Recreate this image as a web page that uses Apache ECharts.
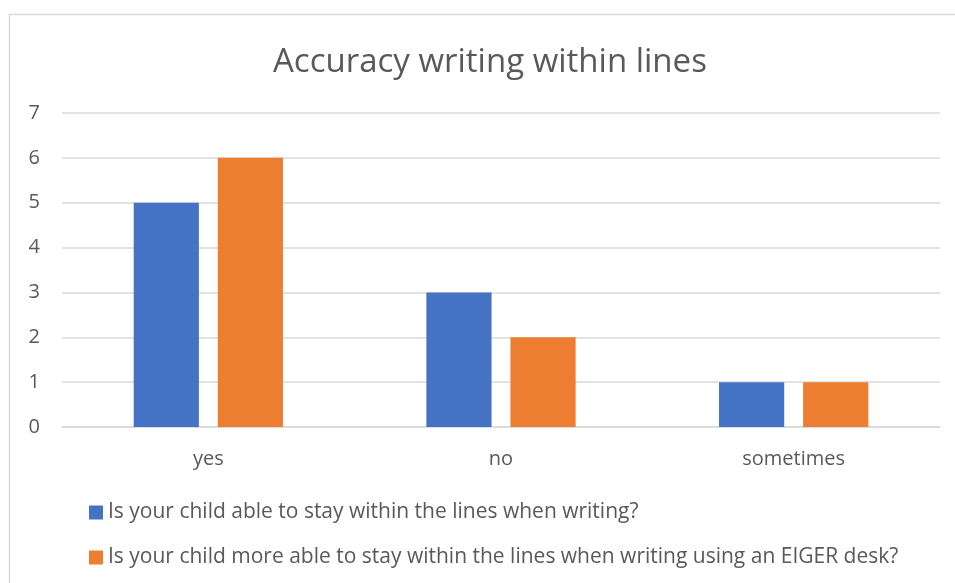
<!DOCTYPE html>
<html>
<head>
<meta charset="utf-8">
<script src="https://cdn.jsdelivr.net/npm/echarts@6/dist/echarts.min.js"></script>
<style>
  html, body { margin: 0; padding: 0; background: #fff; }
  #chart { width: 955px; height: 583px; }
</style>
</head>
<body>
<div id="chart"></div>
<script>
const categories = ["yes", "no", "sometimes"];
const seriesNames = [
  "Is your child able to stay within the lines when writing?",
  "Is your child more able to stay within the lines when writing using an EIGER desk?",
];
const ableValues = [5, 3, 1];
const eigerValues = [6, 2, 1];
const colors = ["#4472C4", "#ED7D31"];

const font = "Open Sans";
const chart = echarts.init(document.getElementById("chart"));

chart.setOption({
  color: colors,
  textStyle: { fontFamily: font, color: "#595959" },
  title: {
    text: "Accuracy writing within lines",
    left: 268,
    top: 41,
    textStyle: { fontFamily: font, fontSize: 33, fontWeight: "normal", color: "#595959" },
  },
  graphic: [
    {
      type: "rect",
      shape: { x: 9.5, y: 14.5, width: 1000, height: 700 },
      style: { fill: null, stroke: "#D9D9D9", lineWidth: 1.5 },
      silent: true,
    },
  ],
  legend: {
    orient: "vertical",
    left: 84,
    top: 497,
    itemWidth: 14,
    itemHeight: 14,
    itemGap: 24,
    icon: "rect",
    textStyle: { fontFamily: font, fontSize: 21, color: "#595959" },
    data: seriesNames,
  },
  grid: { left: 62, right: 15, top: 113, bottom: 156, containLabel: false },
  xAxis: {
    type: "category",
    data: categories,
    axisLine: { lineStyle: { color: "#D9D9D9", width: 1.5 } },
    axisTick: { show: false },
    axisLabel: { fontSize: 20, color: "#595959", margin: 22 },
  },
  yAxis: {
    type: "value",
    min: 0,
    max: 7,
    interval: 1,
    axisLine: { show: false },
    axisTick: { show: false },
    splitLine: { lineStyle: { color: "#D9D9D9", width: 1.5 } },
    axisLabel: { fontSize: 20, color: "#595959", margin: 22, align: "right" },
  },
  series: [
    {
      name: seriesNames[0],
      type: "bar",
      data: ableValues,
      barGap: "29%",
      barCategoryGap: "49%",
    },
    {
      name: seriesNames[1],
      type: "bar",
      data: eigerValues,
    },
  ],
});
</script>
</body>
</html>
